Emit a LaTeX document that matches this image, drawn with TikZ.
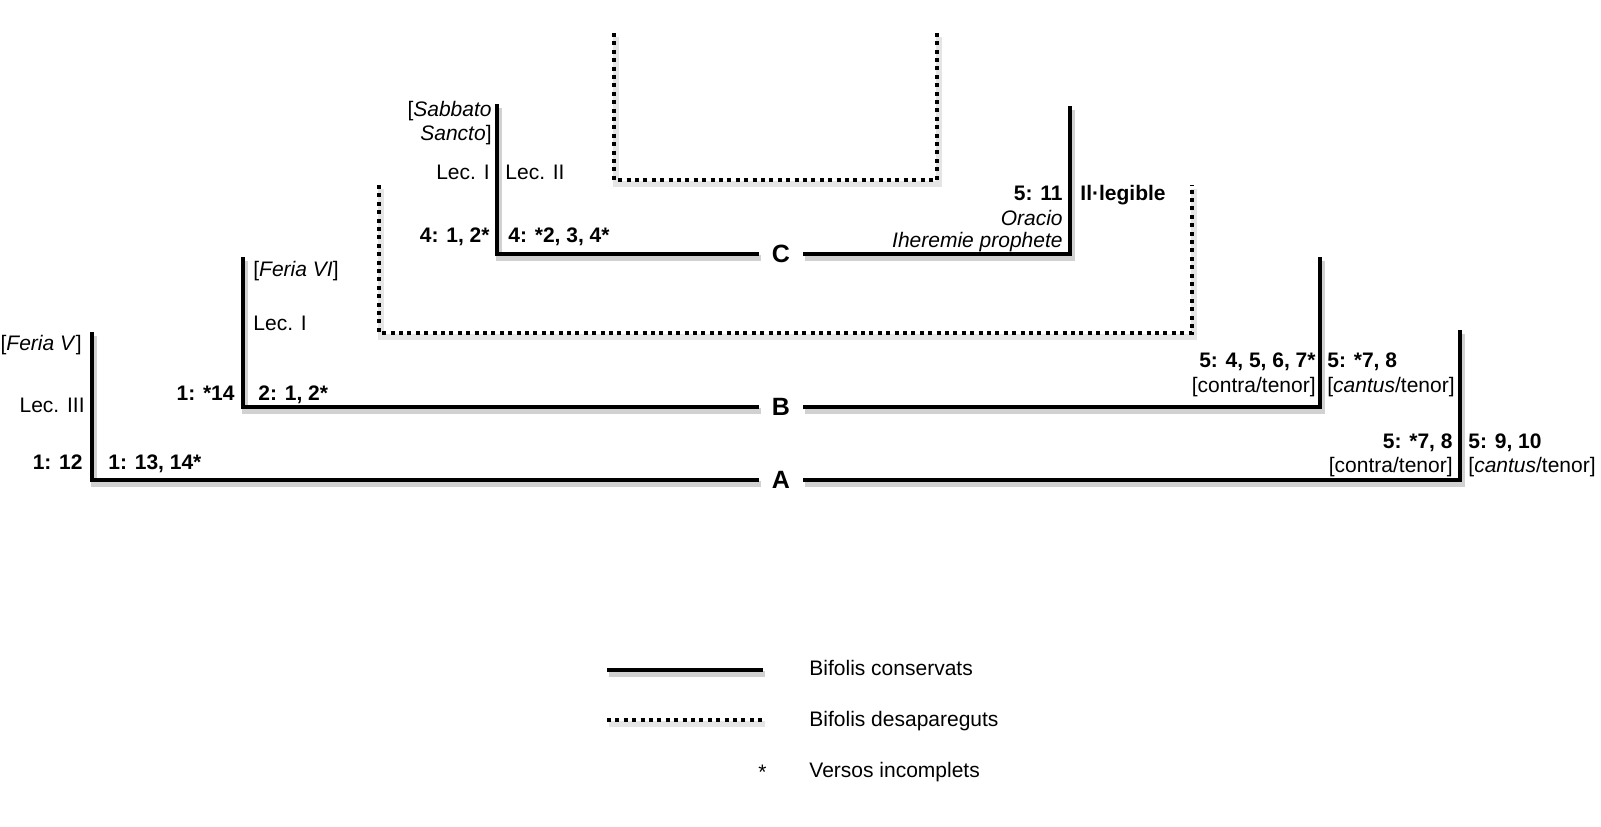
\documentclass[tikz,border=0pt]{standalone}
\usepackage{fontspec}
\setmainfont{Liberation Sans}
\usepackage{tikz}

\begin{document}
\begin{tikzpicture}[
  x=0.5pt,y=-0.5pt,
  font=\fontsize{10.5}{11}\selectfont,
  cons/.style={line width=2pt,preaction={draw=black!18,line width=3pt,transform canvas={xshift=1pt,yshift=-2pt}}},
  lost/.style={line width=2pt,dash pattern=on 2pt off 2.2pt,preaction={draw=black!10,solid,line width=3pt,transform canvas={xshift=1pt,yshift=-2pt}}},
  lbl/.style={inner sep=0pt},
  num/.style={inner sep=0pt,font=\fontsize{10.5}{11}\selectfont\bfseries},
  let/.style={inner sep=0pt,minimum width=21.5pt,font=\fontsize{12.5}{14}\selectfont\bfseries}
]
\useasboundingbox (0,0) rectangle (1601,826);

% corners of the bifolis
\coordinate (A1) at (92,332);
\coordinate (A2) at (1460,330);
\coordinate (B1) at (243,257);
\coordinate (B2) at (1320,257);
\coordinate (C1) at (497,104);
\coordinate (C2) at (1070,106);
\coordinate (inTL) at (614,33);
\coordinate (inBL) at (614,180);
\coordinate (inTR) at (937,33);
\coordinate (outTL) at (379,185);
\coordinate (outBL) at (379,333);
\coordinate (outTR) at (1192,185);

\node[let] (lA) at (781,480) {A};
\node[let] (lB) at (781,407) {B};
\node[let] (lC) at (781,254) {C};

% lost bifolis
\draw[lost] (inTL) -- (inBL) -| (inTR);
\draw[lost] (outTL) -- (outBL) -| (outTR);

% kept bifolis
\draw[cons] (A1) |- (lA.west);
\draw[cons] (lA.east) -| (A2);
\draw[cons] (B1) |- (lB.west);
\draw[cons] (lB.east) -| (B2);
\draw[cons] (C1) |- (lC.west);
\draw[cons] (lC.east) -| (C2);

% A
\node[lbl,anchor=base east] (feriaV) at (82,350) {[\textit{Feria V}]};
\node[lbl,anchor=base east] (lecIII) at (85,412) {Lec. III};
\node[num,anchor=base east] (a1) at (83,469) {1: 12};
\node[num,anchor=base west] (a2) at (108,469) {1: 13, 14*};
\node[num,anchor=base east] (a3) at (1453,448) {5: *7, 8};
\node[lbl,anchor=base east] (a3t) at (1453,472) {[contra/tenor]};
\node[num,anchor=base west] (a4) at (1468,448) {5: 9, 10};
\node[lbl,anchor=base west] (a4t) at (1468,472) {[\textit{cantus}/tenor]};

% B
\node[lbl,anchor=base west] (feriaVI) at (253,276) {[\textit{Feria VI}]};
\node[lbl,anchor=base west] (lecIb) at (253,330) {Lec. I};
\node[num,anchor=base east] (b1) at (235,400) {1: *14};
\node[num,anchor=base west] (b2) at (258,400) {2: 1, 2*};
\node[num,anchor=base east] (b3) at (1316,367) {5: 4, 5, 6, 7*};
\node[lbl,anchor=base east] (b3t) at (1316,392) {[contra/tenor]};
\node[num,anchor=base west] (b4) at (1327,367) {5: *7, 8};
\node[lbl,anchor=base west] (b4t) at (1327,392) {[\textit{cantus}/tenor]};

% C
\node[lbl,anchor=base east,align=right] (sabbato) at (492,140) {[\textit{Sabbato}\\[1pt]\textit{Sancto}]};
\node[lbl,anchor=base east] (lecIc) at (490,179) {Lec. I};
\node[lbl,anchor=base west] (lecII) at (505,179) {Lec. II};
\node[num,anchor=base east] (c1) at (490,242) {4: 1, 2*};
\node[num,anchor=base west] (c2) at (508,242) {4: *2, 3, 4*};
\node[num,anchor=base east] (c3) at (1063,200) {5: 11};
\node[lbl,anchor=base east] (oracio) at (1063,225) {\textit{Oracio}};
\node[lbl,anchor=base east] (iheremie) at (1063,247) {\textit{Iheremie prophete}};
\node[num,anchor=base west] (c4) at (1080,200) {Il·legible};

% legend
\coordinate (k1) at (607,670);
\coordinate (k2) at (763,670);
\coordinate (k3) at (607,720);
\coordinate (k4) at (763,720);
\draw[cons] (k1) -- (k2);
\draw[lost] (k3) -- (k4);
\node[lbl,anchor=base east] (star) at (767,779) {*};
\node[lbl,anchor=base west] (kcons) at (809,675) {Bifolis conservats};
\node[lbl,anchor=base west] (klost) at (809,726) {Bifolis desapareguts};
\node[lbl,anchor=base west] (kinc) at (809,777) {Versos incomplets};
\end{tikzpicture}
\end{document}
